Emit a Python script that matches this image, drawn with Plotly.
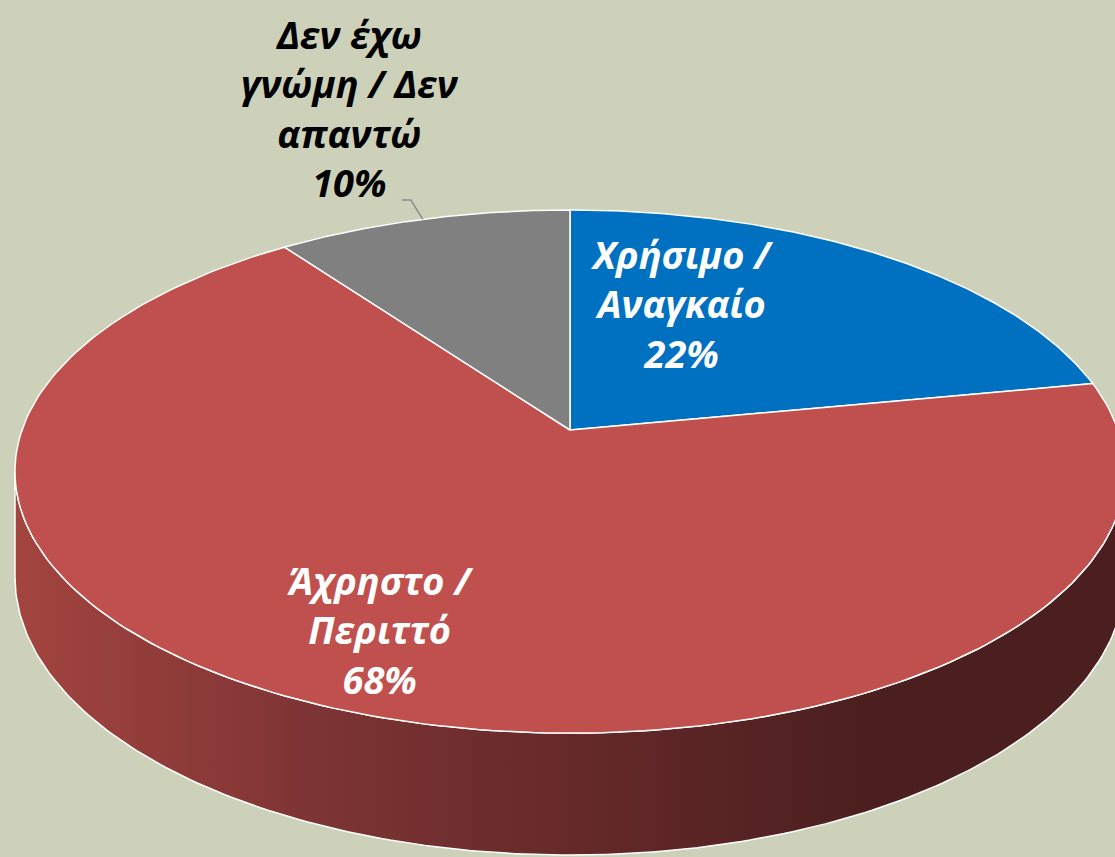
import math
import plotly.graph_objects as go

# ---- data ----
categories = ["Χρήσιμο /<br>Αναγκαίο", "Άχρηστο /<br>Περιττό", "Δεν έχω<br>γνώμη / Δεν<br>απαντώ"]
values = [22, 68, 10]
top_colors = ["#0070C0", "#C0504D", "#808080"]
label_colors = ["white", "white", "black"]

# ---- style / geometry of the 3D pie ----
W, H = 1115, 857
BG = "#CDD1B9"
cx, cy = 570, 430          # apex of the pie
A, B, k = 255.0, 548.0, 0.1587   # vertical, horizontal radius and perspective factor
Dp = 102.6                 # depth of the pie body
FONT = "Open Sans"


def proj(theta_deg, drop=0.0):
    t = math.radians(theta_deg)
    u, v = math.sin(t), math.cos(t)
    w = 1 + k * v
    return cx + B * u / w, cy - A * v / w + drop * Dp / w


def arc(a0, a1, drop=0.0, n=200):
    xs, ys = [], []
    for i in range(n + 1):
        x, y = proj(a0 + (a1 - a0) * i / n, drop)
        xs.append(x)
        ys.append(y)
    return xs, ys


total = sum(values)
starts, ends = [], []
acc = 0.0
for v in values:
    starts.append(acc / total * 360)
    acc += v
    ends.append(acc / total * 360)

fig = go.Figure()

# visible side wall
a_l = math.degrees(math.acos(-k))
a_r = 360 - a_l
for i, (s, e) in enumerate(zip(starts, ends)):
    lo, hi = max(s, a_l), min(e, a_r)
    if hi <= lo:
        continue
    tx, ty = arc(lo, hi, 0)
    bx, by = arc(hi, lo, 1)
    fig.add_trace(go.Scatter(
        x=tx + bx + [tx[0]], y=ty + by + [ty[0]], mode="lines", fill="toself",
        line=dict(color="white", width=1.5),
        fillgradient=dict(type="horizontal", start=15, stop=870,
                          colorscale=[[0, "#A3443F"], [0.35, "#7D3434"],
                                      [0.65, "#662929"], [1, "#4B1F1F"]]),
        hoverinfo="skip", showlegend=False))

# top faces
for i, (s, e) in enumerate(zip(starts, ends)):
    ax, ay = arc(s, e, 0)
    fig.add_trace(go.Scatter(
        x=[cx] + ax + [cx], y=[cy] + ay + [cy], mode="lines", fill="toself",
        fillcolor=top_colors[i], line=dict(color="white", width=1.5),
        name=categories[i].replace("<br>", " "), hoverinfo="skip", showlegend=False))

# labels
label_pos = [(681, 303), (380, 629), (350, 108)]
for i in range(len(values)):
    pct = round(values[i] / total * 100)
    fig.add_annotation(
        x=label_pos[i][0], y=label_pos[i][1], xref="x", yref="y",
        text=f"{categories[i]}<br>{pct}%", showarrow=False,
        font=dict(family=FONT, size=38, color=label_colors[i], weight="bold", style="italic"),
        align="center")

# leader line for the small grey slice
mx, my = proj((starts[2] + ends[2]) / 2, 0)
fig.add_trace(go.Scatter(x=[402, mx - 12, mx], y=[200, 200, my], mode="lines",
                         line=dict(color="#8C8C8C", width=1.5),
                         hoverinfo="skip", showlegend=False))

fig.update_xaxes(range=[0, W], visible=False, fixedrange=True)
fig.update_yaxes(range=[H, 0], visible=False, fixedrange=True)
fig.update_layout(width=W, height=H, margin=dict(l=0, r=0, t=0, b=0),
                  paper_bgcolor=BG, plot_bgcolor=BG, showlegend=False)
fig.write_html("out.html", config={"displayModeBar": False},
               post_script="document.body.style.margin='0';document.body.style.overflow='hidden';")
